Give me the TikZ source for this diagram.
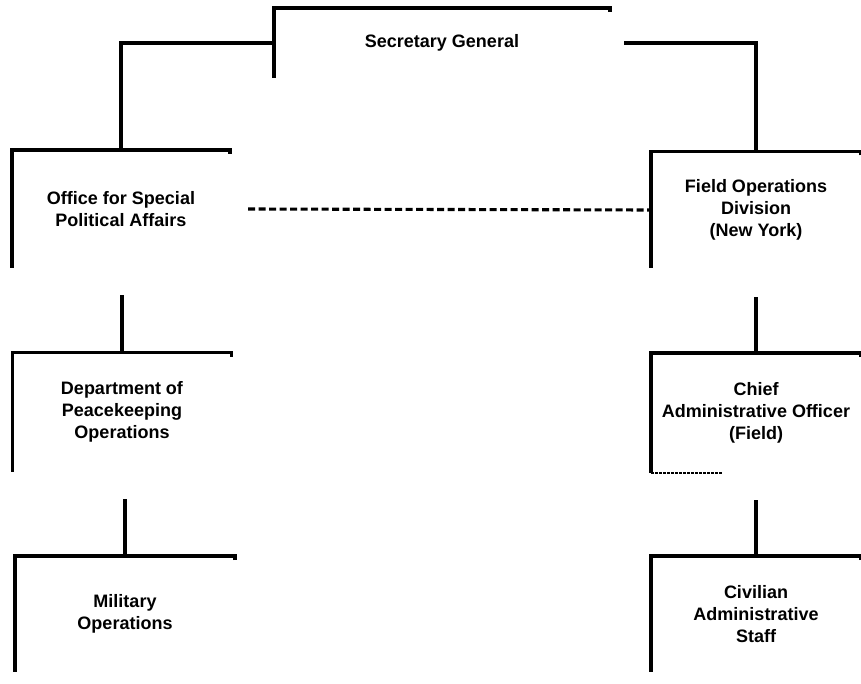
\documentclass[tikz,border=0pt]{standalone}
\usepackage{fontspec}
\setmainfont{Liberation Sans}
\newcommand\halfbox[1]{\draw[edge] ([yshift=-4pt]#1.north east) -- (#1.north east) -- (#1.north west) -- (#1.south west);}
\begin{document}
\begin{tikzpicture}[x=1pt,y=-1pt,
	unit/.style={inner sep=0pt,outer sep=0pt,align=center,font=\bfseries\fontsize{18}{22}\selectfont},
	edge/.style={line width=3.1pt},
	link/.style={line width=3.4pt},
	liaison/.style={line width=3.1pt,dash pattern=on 7pt off 3.5pt}]
	\useasboundingbox (0,0) rectangle (861,684);
	\node[unit,minimum width=336pt,minimum height=70pt] (sg) at (442,43) {Secretary General};
	\node[unit,minimum width=218pt,minimum height=118pt] (ospa) at (121,209) {Office for Special\\Political Affairs};
	\node[unit,minimum width=210pt,minimum height=117pt] (fod) at (756,210) {Field Operations\\Division\\(New York)};
	\node[unit,minimum width=219pt,minimum height=119pt] (dpko) at (122,412) {Department of\\Peacekeeping\\Operations};
	\node[unit,minimum width=210pt,minimum height=120pt] (cao) at (756,413) {Chief\\Administrative Officer\\(Field)};
	\node[unit,minimum width=220pt,minimum height=116pt] (milops) at (125,614) {Military\\Operations};
	\node[unit,minimum width=210pt,minimum height=116pt] (civstaff) at (756,614) {Civilian\\Administrative\\Staff};
	\foreach \n in {sg,ospa,fod,dpko,cao,milops,civstaff} {\halfbox{\n}}
	\draw[line width=1.8pt,dash pattern=on 3pt off 1pt] (cao.south west) -- ([xshift=71pt]cao.south west);
	\draw[link] (sg.west) -| (ospa.north);
	\draw[link] ([xshift=14pt]sg.east) -| (fod.north);
	\draw[liaison] ([xshift=18pt]ospa.east) -- (fod.west);
	\draw[link] (dpko.north) -- ([yshift=-27pt]dpko.north |- ospa.south);
	\draw[link] (milops.north) -- ([yshift=-27pt]milops.north |- dpko.south);
	\draw[link] (cao.north) -- ([yshift=-29pt]cao.north |- fod.south);
	\draw[link] (civstaff.north) -- ([yshift=-27pt]civstaff.north |- cao.south);
\end{tikzpicture}
\end{document}
